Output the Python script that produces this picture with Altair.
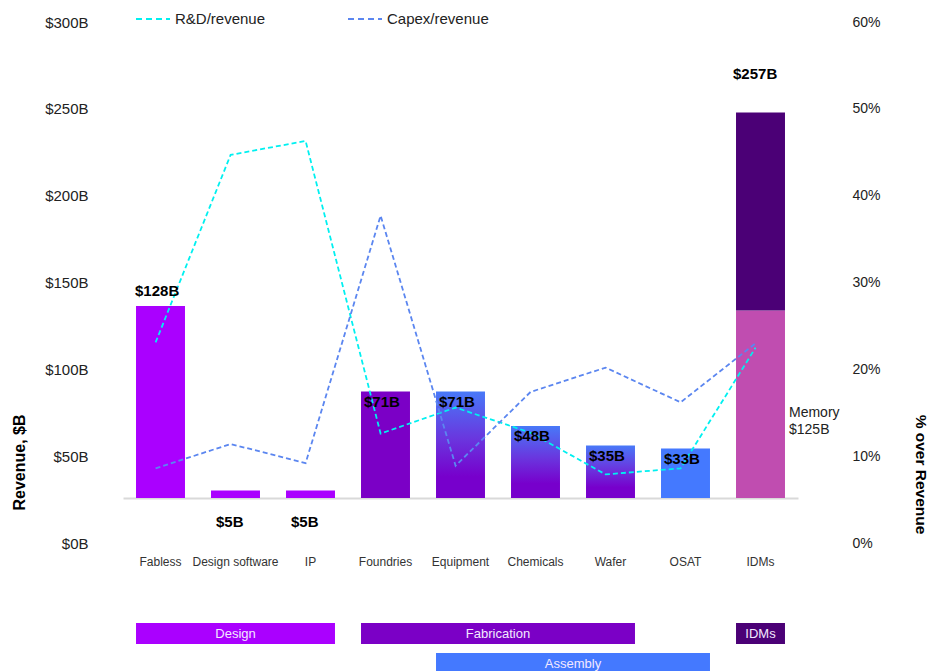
import altair as alt
import pandas as pd

# ---------------- data ----------------
categories = ["Fabless", "Design software", "IP", "Foundries", "Equipment",
              "Chemicals", "Wafer", "OSAT", "IDMs"]
revenue = [128, 5, 5, 71, 71, 48, 35, 33, 257]          # $B
revenue_labels = ["$128B", "$5B", "$5B", "$71B", "$71B", "$48B", "$35B", "$33B", "$257B"]
idm_memory = 125                                         # $B, memory part of IDMs
memory_label = ["Memory", "$125B"]
rd_ratio = [0.231, 0.447, 0.463, 0.126, 0.156, 0.127, 0.079, 0.086, 0.225]
capex_ratio = [0.086, 0.114, 0.092, 0.377, 0.089, 0.174, 0.202, 0.162, 0.230]
series_names = ["R&D/revenue", "Capex/revenue"]
left_ticks = [0, 50, 100, 150, 200, 250, 300]
right_ticks = [0, 0.1, 0.2, 0.3, 0.4, 0.5, 0.6]
group_names = ["Design", "Fabrication", "IDMs", "Assembly"]
group_first = ["Fabless", "Foundries", "IDMs", "Equipment"]
group_last = ["IP", "Wafer", "IDMs", "OSAT"]
group_row = [1, 1, 1, 2]

# ---------------- tables ----------------
bar_rows = []
for c, v in zip(categories, revenue):
    if c == "IDMs":
        bar_rows.append({"cat": c, "segment": "Memory", "value": idm_memory, "rank": 0})
        bar_rows.append({"cat": c, "segment": "IDMs", "value": v - idm_memory, "rank": 1})
    else:
        bar_rows.append({"cat": c, "segment": c, "value": v, "rank": 0})
bars_df = pd.DataFrame(bar_rows)
labels_df = pd.DataFrame({"cat": categories, "value": revenue, "label": revenue_labels})
memory_df = pd.DataFrame({"cat": ["IDMs"], "value": [idm_memory]})
lines_df = pd.DataFrame(
    [{"cat": c, "series": series_names[0], "ratio": r} for c, r in zip(categories, rd_ratio)]
    + [{"cat": c, "series": series_names[1], "ratio": r} for c, r in zip(categories, capex_ratio)]
)
left_df = pd.DataFrame({"v": left_ticks})
groups_df = pd.DataFrame({
    "name": group_names,
    "first_idx": [categories.index(g) for g in group_first],
    "last_idx": [categories.index(g) for g in group_last],
    "row": group_row,
})

# ---------------- styling ----------------
FONT = "Liberation Sans"
W, H = 675, 521
PAD_INNER = 0.347
PAD_OUTER = PAD_INNER / 2
gradient_cats = ["Equipment", "Chemicals", "Wafer"]
seg_domain = ["Fabless", "Design software", "IP", "Foundries", "OSAT", "IDMs", "Memory"]
seg_range = ["#AA00FF", "#AA00FF", "#AA00FF", "#7B00C6", "#4479FF", "#4B0076", "#C04DB0"]

xs = alt.Scale(domain=categories, paddingInner=PAD_INNER, paddingOuter=PAD_OUTER)
xaxis = alt.Axis(title=None, labelAngle=0, ticks=False, domainColor="#d9d9d9",
                 domainWidth=2, offset=-45, labelPadding=58, labelFontSize=12,
                 labelColor="#333333", labelFont=FONT, grid=False)
ybar = alt.Scale(domain=[0, 300], range=[H - 45, 26])


def X(**kw):
    return alt.X("cat:N", sort=categories, scale=xs, axis=xaxis, **kw)


left_axis_layer = alt.Chart(left_df).mark_point(opacity=0).encode(
    y=alt.Y("v:Q", scale=alt.Scale(domain=[0, 300]),
            axis=alt.Axis(orient="left", values=left_ticks,
                          labelExpr="'$' + datum.value + 'B'",
                          domain=False, ticks=False, grid=False, offset=35,
                          labelPadding=0, labelFontSize=15, labelColor="#222222",
                          labelFont=FONT, title="Revenue, $B", titleFont=FONT,
                          titleFontSize=16, titleFontWeight="bold", titleColor="#000000",
                          titleY=440, titlePadding=17))
)

solid_bars = alt.Chart(bars_df).transform_filter(
    {"not": alt.FieldOneOfPredicate(field="cat", oneOf=gradient_cats)}
).mark_bar().encode(
    x=X(),
    y=alt.Y("value:Q", stack="zero", scale=ybar, axis=None),
    color=alt.Color("segment:N", scale=alt.Scale(domain=seg_domain, range=seg_range), legend=None),
    order=alt.Order("rank:Q", sort="ascending"),
)

gradient_bars = alt.Chart(bars_df).transform_filter(
    alt.FieldOneOfPredicate(field="cat", oneOf=gradient_cats)
).mark_bar(color=alt.Gradient(
    gradient="linear",
    stops=[alt.GradientStop(color="#4879F8", offset=0),
           alt.GradientStop(color="#6A35DE", offset=0.45),
           alt.GradientStop(color="#7700CC", offset=0.8),
           alt.GradientStop(color="#7700CC", offset=1)],
    x1=0, x2=0, y1=0, y2=1)).encode(
    x=X(),
    y=alt.Y("value:Q", scale=ybar, axis=None),
)

lines = alt.Chart(lines_df).mark_line(strokeDash=[5, 3], strokeWidth=1.8).encode(
    x=X(bandPosition=0.4),
    y=alt.Y("ratio:Q", scale=alt.Scale(domain=[0, 0.6]),
            axis=alt.Axis(orient="right", values=right_ticks, format=".0%",
                          domain=False, ticks=False, grid=False, offset=50,
                          labelPadding=4, labelFontSize=14, labelColor="#222222",
                          labelFont=FONT, title="% over Revenue", titleFont=FONT,
                          titleFontSize=15.5, titleFontWeight="bold", titleColor="#000000",
                          titleY=452, titlePadding=32)),
    color=alt.Color("series:N", scale=alt.Scale(domain=series_names,
                                               range=["#00F0F0", "#5B86F0"]),
                    legend=alt.Legend(orient="none", legendX=12, legendY=-21,
                                      direction="horizontal", title=None,
                                      symbolType="stroke", symbolSize=1156,
                                      symbolStrokeWidth=2, symbolDash=[6, 4],
                                      labelFontSize=15, labelColor="#222222",
                                      labelFont=FONT, labelOffset=4,
                                      columnPadding=78, padding=0)),
    detail="series:N",
)


def value_text(cats, dx, dy):
    return alt.Chart(labels_df).transform_filter(
        alt.FieldOneOfPredicate(field="cat", oneOf=cats)
    ).mark_text(align="left", baseline="alphabetic", dx=dx, dy=dy, font=FONT,
                fontSize=15, fontWeight="bold", color="#000000").encode(
        x=X(bandPosition=0),
        y=alt.Y("value:Q", scale=ybar, axis=None),
        text="label:N",
    )


text_above = value_text(["Fabless"], -1, -10)
text_idm = value_text(["IDMs"], -3, -34)
text_inside = value_text(["Foundries", "Equipment", "Chemicals", "Wafer", "OSAT"], 3, 15)
text_below = value_text(["Design software", "IP"], 5, 36)

memory_text = alt.Chart(memory_df).transform_calculate(
    mid="datum.value / 2"
).mark_text(text=memory_label, align="left", baseline="middle", dx=4, dy=9,
            font=FONT, fontSize=14, lineHeight=17, color="#222222").encode(
    x=X(bandPosition=1),
    y=alt.Y("mid:Q", scale=ybar, axis=None),
)

top = alt.layer(
    left_axis_layer, solid_bars, gradient_bars, lines,
    text_above, text_idm, text_inside, text_below, memory_text,
).resolve_scale(y="independent", color="independent").properties(width=W, height=H)

# ---------------- group boxes under the axis ----------------
half_band = (1 - PAD_INNER) / 2
gx = alt.Scale(domain=[-0.5, len(categories) - 0.5], nice=False, zero=False)
gy = alt.Scale(paddingInner=0.3, paddingOuter=0)
base_groups = alt.Chart(groups_df).transform_calculate(
    start=f"datum.first_idx - {half_band}",
    end=f"datum.last_idx + {half_band}",
    mid="(datum.first_idx + datum.last_idx) / 2",
)
boxes = base_groups.mark_rect().encode(
    x=alt.X("start:Q", scale=gx, axis=None),
    x2="end:Q",
    y=alt.Y("row:O", scale=gy, axis=None),
    color=alt.Color("name:N", scale=alt.Scale(domain=group_names,
                                             range=["#AA00FF", "#7B00C6", "#4B0076", "#4479FF"]),
                    legend=None),
)
box_text = base_groups.mark_text(font=FONT, fontSize=13, color="#F3E8FF",
                                 baseline="middle").encode(
    x=alt.X("mid:Q", scale=gx, axis=None),
    y=alt.Y("row:O", scale=gy, axis=None),
    text="name:N",
)
bottom = alt.layer(boxes, box_text).properties(width=W, height=51)

chart = alt.vconcat(top, bottom, spacing=80, bounds="flush").properties(
    padding={"left": 3, "top": -7, "right": 2, "bottom": 0}
).configure(font=FONT, view=alt.ViewConfig(stroke=None))

chart.save("out.html", embed_options={"renderer": "svg", "actions": False})
